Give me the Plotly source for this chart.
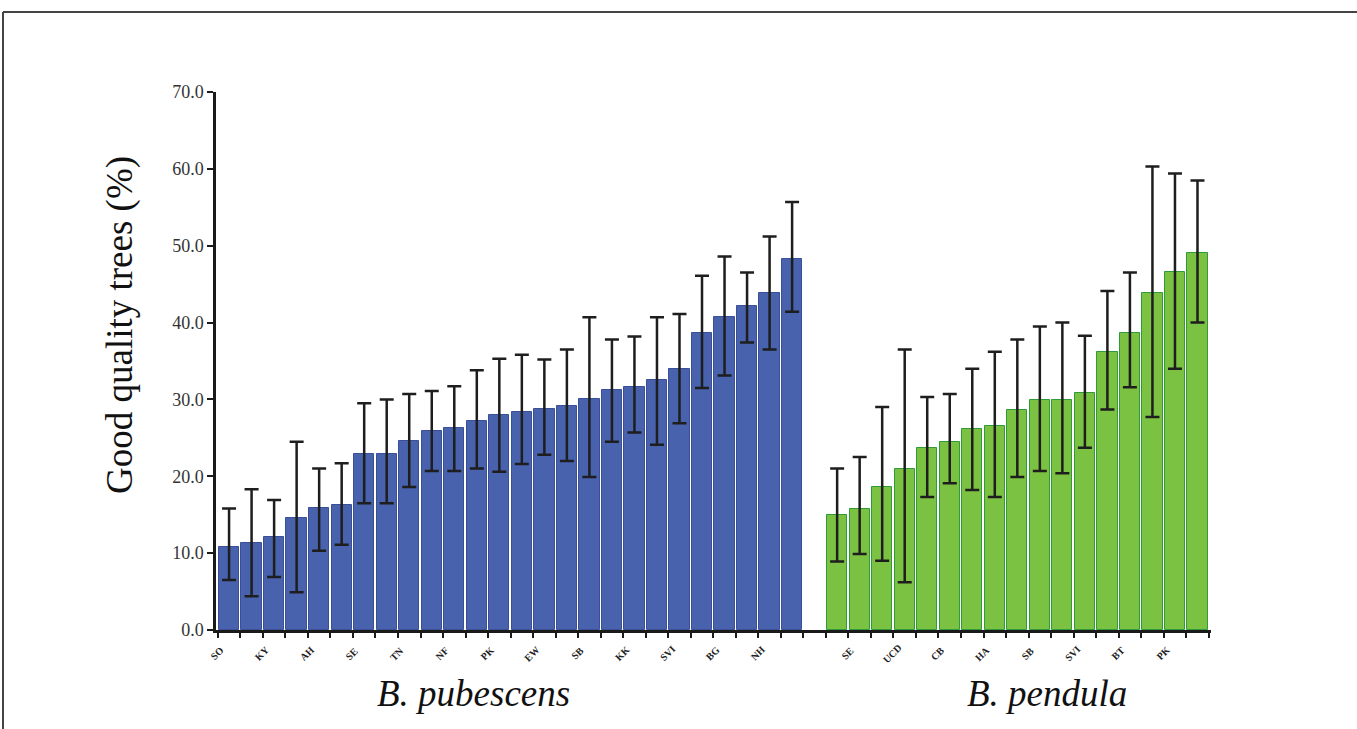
import plotly.graph_objects as go

# ---- data ----
pub_labels = ["SO", "", "KY", "", "AH", "", "SE", "", "TN", "", "NF", "", "PK", "",
              "EW", "", "SB", "", "KK", "", "SVI", "", "BG", "", "NH", ""]
pub_values = [10.8, 11.3, 12.1, 14.6, 15.9, 16.2, 22.9, 22.9, 24.6, 25.9, 26.3, 27.2, 28.0,
              28.3, 28.7, 29.1, 30.0, 31.2, 31.6, 32.5, 34.0, 38.7, 40.7, 42.2, 43.8, 48.3]
pub_err_hi = [15.8, 18.3, 16.9, 24.5, 21.0, 21.7, 29.5, 30.0, 30.7, 31.1, 31.7, 33.8, 35.3,
              35.8, 35.2, 36.5, 40.7, 37.8, 38.2, 40.7, 41.1, 46.1, 48.6, 46.5, 51.2, 55.7]
pub_err_lo = [6.5, 4.4, 6.9, 4.9, 10.3, 11.1, 16.5, 16.5, 18.6, 20.7, 20.7, 21.0, 20.6,
              21.6, 22.8, 22.0, 19.9, 24.5, 25.7, 24.1, 26.9, 31.5, 33.1, 37.4, 36.5, 41.4]

pen_labels = ["", "SE", "", "UCD", "", "CB", "", "HA", "", "SB", "", "SVI", "", "BT", "", "PK", ""]
pen_values = [14.9, 15.8, 18.6, 21.0, 23.7, 24.5, 26.2, 26.6, 28.6, 29.9, 29.9, 30.8, 36.2,
              38.6, 43.8, 46.6, 49.0]
pen_err_hi = [21.0, 22.5, 29.0, 36.5, 30.3, 30.7, 34.0, 36.2, 37.8, 39.5, 40.0, 38.3, 44.1,
              46.5, 60.3, 59.4, 58.5]
pen_err_lo = [8.9, 9.9, 9.0, 6.2, 17.3, 19.1, 18.2, 17.3, 19.9, 20.7, 20.4, 23.7, 28.7,
              31.6, 27.7, 34.0, 40.0]

y_ticks = [0, 10, 20, 30, 40, 50, 60, 70]
GAP = 27  # slot offset of the second group

pub_x = list(range(len(pub_values)))
pen_x = [GAP + i for i in range(len(pen_values))]

fig = go.Figure()

def add_group(xs, vals, hi, lo, fill, edge):
    fig.add_trace(go.Bar(
        x=xs, y=vals, width=0.9,
        marker=dict(color=fill, line=dict(color=edge, width=1)),
        error_y=dict(type="data", symmetric=False,
                     array=[h - v for h, v in zip(hi, vals)],
                     arrayminus=[v - l for l, v in zip(lo, vals)],
                     color="#1e1e1e", thickness=2.5, width=7),
        showlegend=False, hoverinfo="y"))

add_group(pub_x, pub_values, pub_err_hi, pub_err_lo, "#4862AE", "#3a4f96")
add_group(pen_x, pen_values, pen_err_hi, pen_err_lo, "#7CC242", "#2f9a3a")

# tick marks at bar edges
edge_vals = [x - 0.5 for x in pub_x] + [pub_x[-1] + 0.5] + [x - 0.5 for x in pen_x] + [pen_x[-1] + 0.5]

L, R, T, B = 216, 146, 92, 99
W, H = 1357, 729
pw = W - L - R
ph = H - T - B
XR = [-0.58, 43.6]

def px2x(px):
    return (px - L) / pw

def py2y(py):
    return (H - B - py) / ph

fig.update_layout(
    width=W, height=H,
    margin=dict(l=L, r=R, t=T, b=B),
    paper_bgcolor="white", plot_bgcolor="white",
    bargap=0,
    xaxis=dict(range=XR, showgrid=False, zeroline=False,
               showline=True, linecolor="#1a1a1a", linewidth=2.5,
               tickmode="array", tickvals=edge_vals, ticktext=[""] * len(edge_vals),
               ticks="outside", ticklen=5, tickwidth=2, tickcolor="#1a1a1a"),
    yaxis=dict(range=[0, 70], showgrid=False, zeroline=False,
               showline=True, linecolor="#1a1a1a", linewidth=2.5,
               tickmode="array", tickvals=y_ticks,
               ticktext=[f"{v:.1f}" for v in y_ticks],
               ticks="outside", ticklen=6, tickwidth=2, tickcolor="#1a1a1a",
               tickfont=dict(family="Liberation Serif", size=18, color="#333")),
    font=dict(family="Liberation Serif"),
)

# small rotated category labels under the left edge of their bar
for xs, labs in ((pub_x, pub_labels), (pen_x, pen_labels)):
    for x, t in zip(xs, labs):
        if not t:
            continue
        fig.add_annotation(x=x - 0.55, y=py2y(653), xref="x", yref="paper",
                           xanchor="center", yanchor="middle", text="<b>" + t + "</b>",
                           textangle=-45, showarrow=False,
                           font=dict(family="Liberation Serif", size=10, color="#222"))

fig.add_annotation(x=px2x(120), y=py2y(325), xref="paper", yref="paper",
                   xanchor="center", yanchor="middle",
                   text="Good quality trees (%)", textangle=-90, showarrow=False,
                   font=dict(family="Liberation Serif", size=37, color="#111"))
fig.add_annotation(x=px2x(473), y=py2y(693), xref="paper", yref="paper",
                   xanchor="center", yanchor="middle",
                   text="<i>B. pubescens</i>", showarrow=False,
                   font=dict(family="Liberation Serif", size=37, color="#111"))
fig.add_annotation(x=px2x(1047), y=py2y(693), xref="paper", yref="paper",
                   xanchor="center", yanchor="middle",
                   text="<i>B. pendula</i>", showarrow=False,
                   font=dict(family="Liberation Serif", size=37, color="#111"))

# frame lines (top and left border)
fig.add_shape(type="line", xref="paper", yref="paper",
              x0=px2x(3), x1=px2x(W + 5), y0=py2y(12), y1=py2y(12),
              line=dict(color="#444", width=2))
fig.add_shape(type="line", xref="paper", yref="paper",
              x0=px2x(3), x1=px2x(3), y0=py2y(12), y1=py2y(H + 5),
              line=dict(color="#444", width=2))

fig.write_html("out.html")
